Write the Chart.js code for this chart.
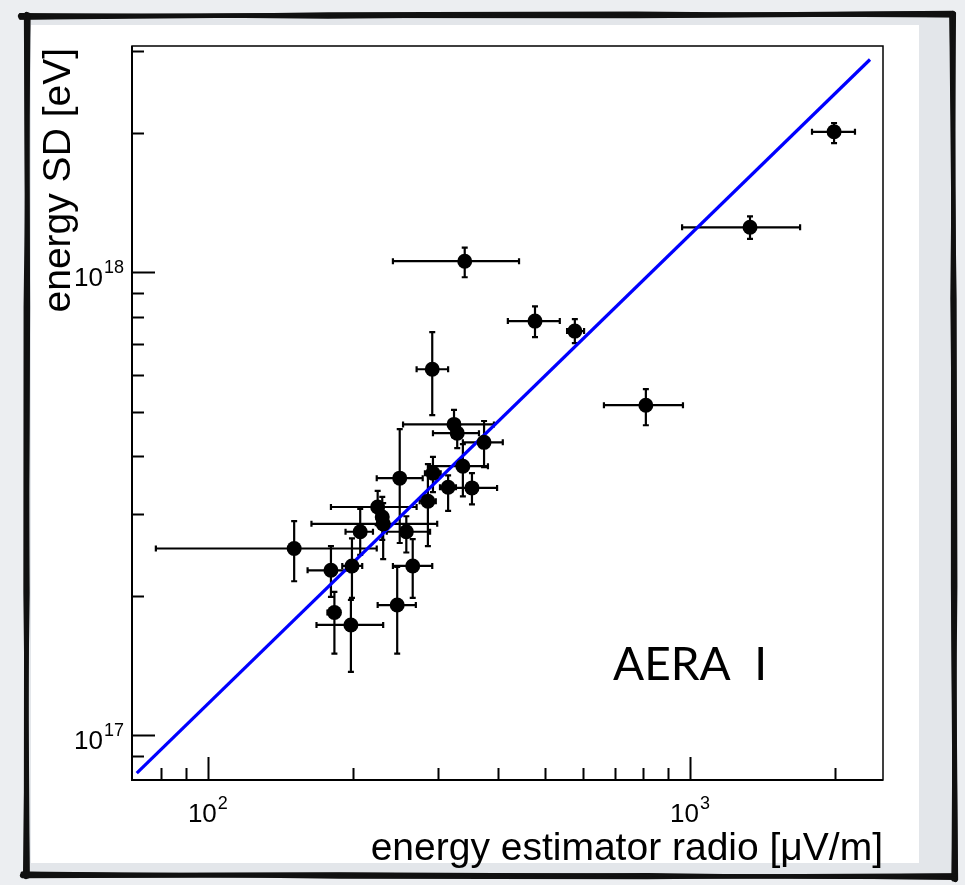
<!DOCTYPE html>
<html>
<head>
<meta charset="utf-8">
<script src="https://cdn.jsdelivr.net/npm/chart.js@4.4.1/dist/chart.umd.min.js"></script>
<style>
  html, body { margin: 0; padding: 0; background: #eceef1; }
  #wrap { width: 965px; height: 885px; }
</style>
</head>
<body>
<div id="wrap"><canvas id="chart" width="965" height="885"></canvas></div>
<script>
"use strict";

/**************************************************************
 * Data
 **************************************************************/
const radioX = [151, 180, 199, 183, 198, 247, 266, 207, 258, 225, 230, 231, 250, 286,
  293, 315, 338, 353, 324, 329, 374, 292, 341, 477, 577, 810, 1332, 1990];
const radioXLow = [78, 161, 190, 177, 168, 225, 242, 193, 235, 180, 224, 164, 224, 275,
  282, 303, 289, 322, 254, 293, 338, 271, 242, 419, 556, 663, 963, 1791];
const radioXHigh = [224, 197, 209, 188, 231, 270, 292, 220, 289, 271, 236, 299, 279, 297,
  304, 327, 381, 398, 392, 365, 409, 315, 442, 537, 603, 967, 1692, 2199];

const energySD = [2.53e17, 2.27e17, 2.32e17, 1.84e17, 1.73e17, 1.91e17, 2.32e17, 2.75e17,
  2.75e17, 3.11e17, 2.96e17, 2.86e17, 3.59e17, 3.20e17, 3.68e17, 3.43e17, 3.81e17, 3.42e17,
  4.69e17, 4.49e17, 4.29e17, 6.17e17, 1.056e18, 7.84e17, 7.46e17, 5.16e17, 1.25e18, 2.01e18];
const energyHigh = [2.90e17, 2.56e17, 2.66e17, 2.04e17, 1.96e17, 2.31e17, 2.65e17, 3.08e17,
  2.97e17, 3.37e17, 3.27e17, 3.17e17, 4.58e17, 3.85e17, 3.99e17, 3.64e17, 4.25e17, 3.68e17,
  5.04e17, 4.74e17, 4.77e17, 7.42e17, 1.13e18, 8.44e17, 7.92e17, 5.59e17, 1.32e18, 2.10e18];
const energyLow = [2.15e17, 1.99e17, 1.98e17, 1.50e17, 1.37e17, 1.50e17, 1.98e17, 2.45e17,
  2.48e17, 2.84e17, 2.64e17, 2.40e17, 2.60e17, 2.56e17, 3.35e17, 3.05e17, 3.28e17, 3.15e17,
  4.40e17, 4.17e17, 3.79e17, 4.91e17, 9.75e17, 7.24e17, 7.03e17, 4.67e17, 1.18e18, 1.90e18];

// fitted power law, two end points
const fitX = [71.2, 2363];
const fitY = [8.28e16, 2.88e18];

// axis ranges and ticks
const xRange = [69.6, 2514];
const yRange = [8.0e16, 3.08e18];
const xTickValues = [80, 90, 100, 200, 300, 400, 500, 600, 700, 800, 900, 1000, 2000];
const yTickValues = [9e16, 1e17, 2e17, 3e17, 4e17, 5e17, 6e17, 7e17, 8e17, 9e17, 1e18, 2e18, 3e18];
const xMajor = [[100, "2"], [1000, "3"]];
const yMajor = [[1e17, "17"], [1e18, "18"]];

const xTitle = "energy estimator radio [\u03bcV/m]";
const yTitle = "energy SD [eV]";
const panelLabel = "AERA  I";

/**************************************************************
 * Helpers
 **************************************************************/
function isMajor(v) {
  const m = v / Math.pow(10, Math.floor(Math.log10(v) + 1e-9));
  return Math.abs(m - 1) < 1e-6;
}

function sketchLine(ctx, x1, y1, x2, y2) {
  // a few overlapping strokes for the hand-drawn frame
  const passes = [
    [0, 0, 0.8, -0.4, 4.5],
    [2, -1.5, -1.6, 1.8, 3],
    [-1.8, 1.4, 2.2, 0.8, 2.5],
    [3, 0.8, -0.6, -2.4, 1.5],
    [-0.8, 2.6, 0.4, 2.8, 1.5],
  ];
  const dx = x2 - x1, dy = y2 - y1;
  const len = Math.hypot(dx, dy);
  const nx = -dy / len, ny = dx / len;
  passes.forEach(([a, b, c, d, w]) => {
    ctx.lineWidth = w;
    ctx.beginPath();
    ctx.moveTo(x1 + nx * a, y1 + ny * a);
    ctx.lineTo(x1 + dx * 0.33 + nx * b, y1 + dy * 0.33 + ny * b);
    ctx.lineTo(x1 + dx * 0.66 + nx * c, y1 + dy * 0.66 + ny * c);
    ctx.lineTo(x2 + nx * d, y2 + ny * d);
    ctx.stroke();
  });
}

/**************************************************************
 * Plugins
 **************************************************************/
const backdrop = {
  id: "backdrop",
  beforeDraw(chart) {
    const { ctx } = chart;
    ctx.save();
    ctx.fillStyle = "#eceef1";
    ctx.fillRect(0, 0, chart.width, chart.height);
    ctx.fillStyle = "#e3e6ea";
    ctx.fillRect(24, 16, 928, 862);
    ctx.fillStyle = "#ffffff";
    ctx.fillRect(31, 25, 888, 838);
    ctx.strokeStyle = "#111";
    ctx.lineCap = "round";
    sketchLine(ctx, 20, 16, 953, 14);
    sketchLine(ctx, 953, 13, 955, 880);
    sketchLine(ctx, 955, 877, 22, 875);
    sketchLine(ctx, 26, 877, 27, 14);
    ctx.restore();
  },
};

const errorBars = {
  id: "errorBars",
  beforeDatasetsDraw(chart) {
    const { ctx, scales: { x, y } } = chart;
    ctx.save();
    ctx.strokeStyle = "#000";
    ctx.lineWidth = 2.2;
    radioX.forEach((v, i) => {
      const px = x.getPixelForValue(v);
      const py = y.getPixelForValue(energySD[i]);
      const xl = x.getPixelForValue(radioXLow[i]);
      const xh = x.getPixelForValue(radioXHigh[i]);
      const yt = y.getPixelForValue(energyHigh[i]);
      const yb = y.getPixelForValue(energyLow[i]);
      ctx.beginPath();
      ctx.moveTo(xl, py); ctx.lineTo(xh, py);
      ctx.moveTo(px, yt); ctx.lineTo(px, yb);
      ctx.moveTo(xl, py - 3); ctx.lineTo(xl, py + 3);
      ctx.moveTo(xh, py - 3); ctx.lineTo(xh, py + 3);
      ctx.moveTo(px - 3, yt); ctx.lineTo(px + 3, yt);
      ctx.moveTo(px - 3, yb); ctx.lineTo(px + 3, yb);
      ctx.stroke();
    });
    ctx.restore();
  },
};

const frameAndAxes = {
  id: "frameAndAxes",
  afterDraw(chart) {
    const { ctx, chartArea: a, scales: { x, y } } = chart;
    ctx.save();
    ctx.strokeStyle = "#000";

    // frame
    ctx.lineWidth = 1.5;
    ctx.strokeRect(a.left, a.top, a.right - a.left, a.bottom - a.top);
    ctx.lineWidth = 2;
    ctx.beginPath();
    ctx.moveTo(a.left, a.top); ctx.lineTo(a.left, a.bottom); ctx.lineTo(a.right, a.bottom);
    ctx.stroke();

    // inward ticks
    ctx.beginPath();
    xTickValues.forEach((v) => {
      const px = Math.round(x.getPixelForValue(v)) + 0.5;
      const len = isMajor(v) ? 23 : 12;
      ctx.moveTo(px, a.bottom); ctx.lineTo(px, a.bottom - len);
    });
    yTickValues.forEach((v) => {
      const py = Math.round(y.getPixelForValue(v)) + 0.5;
      const len = isMajor(v) ? 23 : 12;
      ctx.moveTo(a.left, py); ctx.lineTo(a.left + len, py);
    });
    ctx.stroke();

    // tick labels 10^n
    ctx.fillStyle = "#000";
    ctx.textBaseline = "alphabetic";
    const base = "26px 'Liberation Sans', Arial, sans-serif";
    const sup = "18px 'Liberation Sans', Arial, sans-serif";
    xMajor.forEach(([v, e]) => {
      const px = x.getPixelForValue(v);
      ctx.font = base;
      const w1 = ctx.measureText("10").width;
      ctx.font = sup;
      const w2 = ctx.measureText(e).width;
      const start = px - (w1 + w2 + 1) / 2;
      ctx.textAlign = "left";
      ctx.font = base;
      ctx.fillText("10", start, a.bottom + 42);
      ctx.font = sup;
      ctx.fillText(e, start + w1 + 1, a.bottom + 29);
    });
    yMajor.forEach(([v, e]) => {
      const py = y.getPixelForValue(v);
      ctx.font = sup;
      const w2 = ctx.measureText(e).width;
      ctx.textAlign = "right";
      ctx.fillText(e, a.left - 8, py + 1);
      ctx.font = base;
      ctx.fillText("10", a.left - 9 - w2, py + 14);
    });

    // axis titles
    ctx.font = "39px 'Liberation Sans', Arial, sans-serif";
    ctx.textAlign = "right";
    ctx.fillText(xTitle, a.right, 860);
    ctx.save();
    ctx.translate(70, a.top + 2);
    ctx.rotate(-Math.PI / 2);
    ctx.fillText(yTitle, 0, 0);
    ctx.restore();

    // panel label
    ctx.font = "46px Lato, 'Open Sans', sans-serif";
    ctx.textAlign = "left";
    ctx.fillText(panelLabel, 613, 680);

    ctx.restore();
  },
};

/**************************************************************
 * Chart
 **************************************************************/
const points = radioX.map((v, i) => ({ x: v, y: energySD[i] }));
const fitLine = fitX.map((v, i) => ({ x: v, y: fitY[i] }));

new Chart(document.getElementById("chart"), {
  type: "scatter",
  data: {
    datasets: [
      {
        label: "AERA",
        data: points,
        order: 0,
        pointRadius: 7.5,
        pointHoverRadius: 7.5,
        pointBackgroundColor: "#000",
        pointBorderColor: "#000",
        pointBorderWidth: 0,
      },
      {
        type: "line",
        label: "fit",
        data: fitLine,
        order: 1,
        borderColor: "#0000ff",
        borderWidth: 3.2,
        pointRadius: 0,
        fill: false,
      },
    ],
  },
  options: {
    responsive: false,
    animation: false,
    devicePixelRatio: 1,
    layout: { padding: { left: 132, right: 82, top: 46, bottom: 105 } },
    plugins: { legend: { display: false }, tooltip: { enabled: false } },
    scales: {
      x: { type: "logarithmic", min: xRange[0], max: xRange[1], display: false },
      y: { type: "logarithmic", min: yRange[0], max: yRange[1], display: false },
    },
  },
  plugins: [backdrop, errorBars, frameAndAxes],
});
</script>
</body>
</html>
